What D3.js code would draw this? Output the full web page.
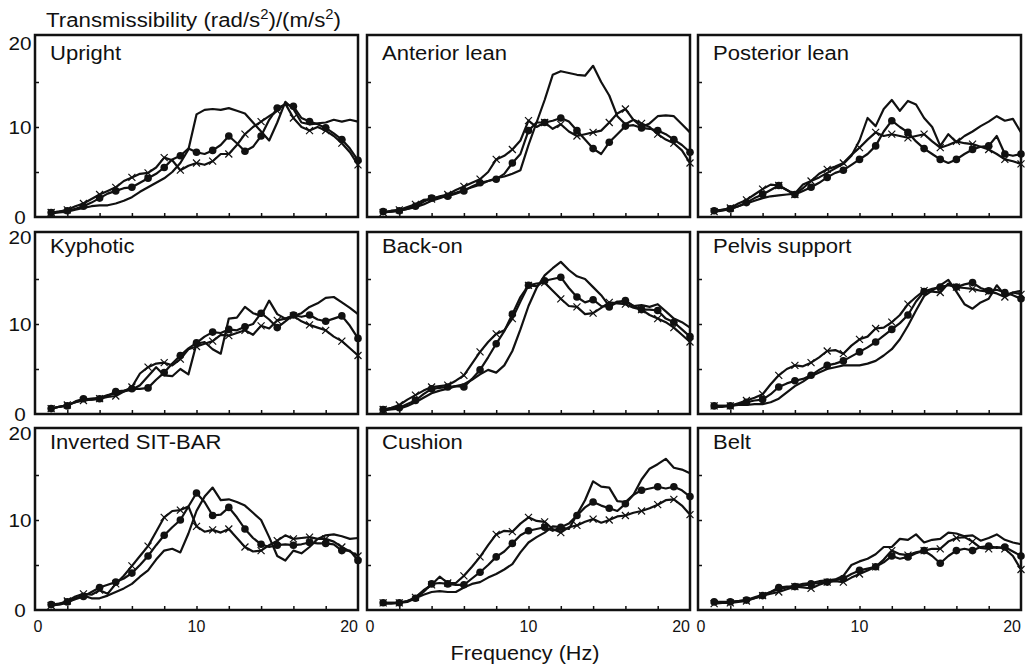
<!DOCTYPE html>
<html>
<head>
<meta charset="utf-8">
<script src="https://cdn.jsdelivr.net/npm/d3@7"></script>
<style>
body { margin: 0; background: #fff; }
text { font-family: "Liberation Sans", Arial, Helvetica, sans-serif; fill: #111; }
</style>
</head>
<body>
<svg id="chart" width="1032" height="670"></svg>
<script>
// frequency axis of every curve (Hz)
var freqs = [1,1.5,2,2.5,3,3.5,4,4.5,5,5.5,6,6.5,7,7.5,8,8.5,9,9.5,10,10.5,11,11.5,12,12.5,13,13.5,14,14.5,15,15.5,16,16.5,17,17.5,18,18.5,19,19.5,20];
// frequencies that carry a marker
var markerFreqs = [1,2,3,4,5,6,7,8,9,10,11,12,13,14,15,16,17,18,19,20];

var panelNames = ["Upright", "Anterior lean", "Posterior lean", "Kyphotic", "Back-on",
                  "Pelvis support", "Inverted SIT-BAR", "Cushion", "Belt"];

var yTickLabels = ["20", "10", "0"];
var xTickLabels = ["0", "10", "20"];

// three curves per panel: plain line, line with dots, line with crosses
var uprightPlain = [0.4,0.5,0.6,0.8,1.0,1.2,1.3,1.3,1.5,1.8,2.2,2.8,3.3,3.8,4.3,5.0,6.0,7.5,11.4,11.9,12.0,11.9,12.1,11.8,11.5,10.5,9.5,8.5,10.5,12.8,12.0,10.5,10.3,10.4,10.5,10.8,10.6,10.8,10.6];
var uprightDots  = [0.5,0.6,0.7,0.9,1.2,1.6,2.1,2.6,2.9,3.2,3.3,3.8,4.3,4.8,5.5,6.4,6.8,7.6,7.2,7.0,7.4,8.0,9.0,8.2,7.3,7.8,9.0,10.8,12.1,12.5,12.3,11.0,10.6,10.3,9.9,9.3,8.6,7.6,6.3];
var uprightCross = [0.5,0.6,0.8,1.2,1.5,2.0,2.5,2.9,3.3,4.0,4.4,4.8,4.9,5.5,6.6,6.3,5.2,5.7,6.0,5.8,6.2,7.0,7.0,8.0,9.2,10.0,10.6,11.2,11.8,12.6,11.0,10.0,9.6,10.0,9.6,9.0,8.2,7.2,5.8];

var anteriorPlain = [0.5,0.6,0.7,0.9,1.1,1.4,1.8,2.1,2.4,2.7,3.0,3.3,3.6,4.0,4.3,4.5,4.8,5.2,8.0,10.5,13.0,15.8,16.2,16.0,15.8,15.7,16.8,15.0,13.5,11.2,10.3,10.8,10.0,10.4,11.2,11.3,11.2,10.3,9.4];
var anteriorDots  = [0.6,0.6,0.7,0.9,1.2,1.7,2.1,2.2,2.3,2.6,2.9,3.4,3.8,4.0,4.2,4.8,6.0,7.0,9.6,10.5,10.5,10.7,11.0,10.6,9.6,8.6,7.6,7.0,8.3,9.2,10.1,10.2,9.9,9.8,9.6,9.2,8.6,8.0,7.2];
var anteriorCross = [0.5,0.7,0.8,1.1,1.4,1.9,2.0,2.3,2.5,3.0,3.4,3.8,4.2,5.0,6.4,6.8,7.5,8.5,10.7,10.0,10.5,9.8,10.3,9.5,9.0,9.2,9.4,9.6,10.5,11.5,12.0,10.8,10.4,10.0,9.2,8.6,8.2,7.4,6.0];

var posteriorPlain = [0.6,0.7,0.9,1.2,1.5,1.8,2.1,2.3,2.4,2.5,2.6,3.6,4.0,4.4,4.9,5.4,5.9,6.8,8.5,11.0,10.1,12.0,13.0,11.8,12.9,12.5,11.0,10.0,7.9,9.2,8.3,9.0,9.5,10.1,10.6,11.2,10.7,10.9,9.4];
var posteriorDots  = [0.7,0.8,0.9,1.2,1.6,2.1,2.5,3.0,3.5,3.0,2.5,2.9,3.3,3.8,4.4,4.9,5.2,5.8,6.4,7.0,7.9,9.5,10.7,10.0,9.4,8.4,7.6,7.0,6.4,6.0,6.4,7.0,7.5,7.8,7.9,9.0,7.0,6.8,7.0];
var posteriorCross = [0.6,0.8,1.0,1.5,1.9,2.5,3.1,3.6,3.5,3.0,2.5,3.2,4.0,4.8,5.3,5.6,6.0,6.9,7.7,8.6,9.4,9.0,9.2,9.0,8.8,9.0,9.2,8.4,7.7,8.0,8.4,8.2,8.1,7.8,7.5,7.0,6.4,6.2,5.9];

var kyphoticPlain = [0.6,0.8,1.0,1.3,1.6,1.7,1.8,2.1,2.3,2.5,2.7,3.2,4.2,5.2,4.3,4.2,5.0,4.4,7.8,8.0,7.2,6.7,10.6,10.7,11.9,11.2,10.9,12.6,11.1,10.6,10.9,11.2,11.9,12.3,12.9,13.0,12.4,11.8,11.1];
var kyphoticDots  = [0.6,0.8,0.9,1.4,1.7,1.6,1.7,2.0,2.5,2.6,2.8,2.8,2.9,3.8,4.6,5.6,6.5,7.3,7.9,8.6,9.1,9.0,9.4,9.3,9.7,10.0,11.2,10.5,9.6,10.3,11.0,10.8,11.0,10.5,10.3,10.6,10.9,9.8,8.4];
var kyphoticCross = [0.6,0.8,1.0,1.3,1.5,1.6,1.7,1.9,2.0,2.5,3.0,4.5,5.2,5.6,5.7,5.4,6.1,7.2,7.5,7.8,8.1,8.8,8.7,9.0,9.3,8.8,9.8,9.5,10.4,10.6,10.9,10.3,9.9,9.6,9.3,8.6,8.1,7.3,6.5];

var backOnPlain = [0.4,0.5,0.6,0.9,1.3,1.8,2.3,2.6,2.8,3.1,3.3,3.8,4.4,4.9,4.6,5.4,7.0,9.4,12.0,14.0,15.4,16.2,16.9,16.0,15.3,15.0,14.1,13.2,12.0,12.5,12.5,12.0,12.1,11.9,12.2,11.4,10.6,10.2,9.6];
var backOnDots  = [0.5,0.6,0.7,1.1,1.5,2.2,2.8,2.9,3.0,3.1,3.0,3.9,4.9,6.3,7.8,9.2,11.1,13.0,14.3,14.2,14.8,15.0,15.2,14.0,13.0,12.4,12.7,12.0,11.9,12.4,12.6,12.0,11.6,11.6,11.5,10.6,10.2,9.4,8.6];
var backOnCross = [0.5,0.7,1.0,1.6,2.1,2.6,3.0,3.1,3.2,3.7,4.3,5.6,6.9,8.0,8.9,9.3,10.6,12.5,14.3,14.5,14.6,13.7,12.8,12.0,11.9,11.1,11.2,11.8,12.4,12.3,12.2,11.8,11.6,11.0,10.6,10.2,9.6,8.8,8.0];

var pelvisPlain = [0.8,0.8,0.9,1.0,1.0,1.1,1.1,1.3,1.7,2.4,3.1,3.6,4.2,4.6,5.0,5.2,5.4,5.4,5.4,5.6,5.9,6.5,7.2,8.3,9.8,11.5,13.1,13.7,14.3,14.9,13.6,12.2,11.7,12.4,12.8,14.3,13.2,13.5,13.7];
var pelvisDots  = [0.9,0.9,0.9,1.1,1.3,1.5,1.6,2.2,3.0,3.4,3.7,3.9,4.3,4.9,5.4,5.6,5.9,6.4,6.9,7.4,8.0,8.7,9.4,10.1,11.0,12.5,13.6,13.9,14.1,14.3,14.1,14.4,14.6,14.0,13.7,13.8,13.5,13.2,12.8];
var pelvisCross = [0.9,0.9,0.9,1.2,1.5,1.8,2.2,3.3,4.3,5.0,5.4,5.3,5.7,6.3,7.0,7.1,6.7,7.6,8.3,8.6,9.5,9.6,10.2,11.0,12.2,13.0,13.7,13.6,13.5,14.5,14.1,14.0,13.9,13.7,13.6,13.4,13.0,13.5,13.3];

var invertedPlain = [0.5,0.6,0.8,1.3,1.6,1.3,1.3,1.6,2.0,2.4,2.9,3.7,4.4,5.6,6.6,6.8,6.4,8.5,11.0,12.6,13.6,12.2,12.3,12.0,11.6,10.8,10.0,8.1,6.0,5.5,6.6,6.3,7.0,7.9,8.3,8.4,8.2,7.9,8.0];
var invertedDots  = [0.6,0.7,0.9,1.2,1.5,2.0,2.5,2.8,3.1,3.5,4.1,5.0,6.0,7.2,8.3,9.2,10.0,11.5,13.0,12.0,10.5,10.6,11.4,10.3,9.0,8.0,7.3,7.0,7.2,7.3,7.2,7.3,7.5,7.4,7.4,7.3,6.6,6.6,5.5];
var invertedCross = [0.5,0.7,1.0,1.5,1.8,1.7,2.2,1.8,2.9,3.8,4.9,6.0,7.1,8.7,10.3,11.0,11.1,11.5,9.3,8.7,8.9,8.6,9.0,8.0,7.0,6.5,6.6,7.2,7.7,8.3,7.9,8.0,8.1,7.9,7.9,7.6,7.0,6.5,6.0];

var cushionPlain = [0.7,0.7,0.8,1.0,1.3,1.7,2.0,2.1,2.0,2.0,2.5,2.9,3.1,3.6,4.0,4.5,5.1,6.4,7.5,8.1,8.6,9.3,9.2,9.0,10.6,12.2,14.3,13.7,13.6,12.1,12.0,12.8,14.5,15.7,16.2,16.8,15.8,15.6,15.2];
var cushionDots  = [0.8,0.8,0.8,0.9,1.3,2.0,2.9,3.0,2.9,2.8,2.8,3.5,4.2,5.0,5.9,6.5,7.4,8.3,8.8,9.0,9.2,8.8,9.2,9.6,10.5,11.4,12.0,11.6,11.3,11.0,11.8,12.8,13.3,13.5,13.7,13.5,13.7,13.3,12.6];
var cushionCross = [0.8,0.8,0.8,1.0,1.4,2.2,2.8,3.7,3.0,3.0,3.8,4.8,5.9,7.2,8.4,8.8,8.7,9.6,10.3,9.9,9.8,9.0,8.6,9.2,9.4,9.8,10.1,9.7,10.0,10.4,10.5,10.8,11.0,11.3,11.7,12.2,12.3,11.6,10.6];

var beltPlain = [0.8,0.8,0.9,1.0,1.1,1.4,1.7,2.0,2.3,2.5,2.7,2.9,3.0,3.2,3.3,3.4,3.8,5.0,5.4,5.7,6.2,7.0,7.0,7.9,7.8,8.4,7.5,7.8,7.9,8.6,8.5,8.2,8.3,7.7,8.0,8.4,7.8,7.5,7.3];
var beltDots  = [0.9,0.9,0.9,1.0,1.1,1.3,1.6,2.0,2.5,2.6,2.6,2.7,2.9,3.0,3.1,3.3,3.5,4.0,4.4,4.6,4.8,5.3,6.0,5.7,5.9,6.3,6.6,6.0,5.2,6.0,6.6,6.8,6.6,7.0,7.1,6.9,7.0,6.5,6.0];
var beltCross = [0.7,0.8,0.8,0.9,1.0,1.3,1.6,1.8,2.0,2.3,2.6,2.5,2.4,2.8,3.1,3.2,3.1,3.6,4.0,4.4,4.8,5.6,6.6,6.2,6.1,6.4,6.6,6.8,6.8,7.6,8.0,8.1,7.6,6.9,6.8,7.0,6.8,6.0,4.5];

var panels = [
    { name: panelNames[0], plain: uprightPlain,   dots: uprightDots,   cross: uprightCross },
    { name: panelNames[1], plain: anteriorPlain,  dots: anteriorDots,  cross: anteriorCross },
    { name: panelNames[2], plain: posteriorPlain, dots: posteriorDots, cross: posteriorCross },
    { name: panelNames[3], plain: kyphoticPlain,  dots: kyphoticDots,  cross: kyphoticCross },
    { name: panelNames[4], plain: backOnPlain,    dots: backOnDots,    cross: backOnCross },
    { name: panelNames[5], plain: pelvisPlain,    dots: pelvisDots,    cross: pelvisCross },
    { name: panelNames[6], plain: invertedPlain,  dots: invertedDots,  cross: invertedCross },
    { name: panelNames[7], plain: cushionPlain,   dots: cushionDots,   cross: cushionCross },
    { name: panelNames[8], plain: beltPlain,      dots: beltDots,      cross: beltCross }
];

// layout
var colLeft = [35, 367, 698];
var rowTop = [35, 232, 428];
var panelW = 323, panelH = 182;
var titleDy = [25, 21, 21];
var top20Dy = [8, 5, 5];

var svg = d3.select("#chart");
svg.append("rect").attr("width", 1032).attr("height", 670).attr("fill", "#fff");

var x = d3.scaleLinear().domain([0, 20]).range([0, panelW]);
var y = d3.scaleLinear().domain([0, 20]).range([panelH, 2]);

var line = d3.line()
    .x(function(d, i) { return x(freqs[i]); })
    .y(function(d) { return y(d); });

// text drawn a little wider, the scan of the figure is stretched
function wideText(sel, str, px, py, size, sx, anchor) {
    return sel.append("text")
        .attr("transform", "translate(" + px + "," + py + ") scale(" + sx + ",1)")
        .attr("font-size", size)
        .attr("text-anchor", anchor || "start")
        .text(str);
}

function markerPoints(series) {
    return markerFreqs.map(function(f) { return { f: f, v: series[freqs.indexOf(f)] }; });
}

panels.forEach(function(p, k) {
    var col = k % 3, row = Math.floor(k / 3);
    var g = svg.append("g").attr("transform", "translate(" + colLeft[col] + "," + rowTop[row] + ")");

    // inward ticks
    var xAxis = g.append("g").attr("transform", "translate(0," + panelH + ")")
        .call(d3.axisBottom(x).tickValues([2, 4, 6, 8, 10, 12, 14, 16, 18]).tickSize(-4).tickFormat(""));
    var yAxis = g.append("g")
        .call(d3.axisLeft(y).tickValues([5, 10, 15]).tickSize(-4).tickFormat(""));
    xAxis.select(".domain").remove();
    yAxis.select(".domain").remove();
    g.selectAll(".tick line").attr("stroke", "#111").attr("stroke-width", 1.5);

    [p.plain, p.dots, p.cross].forEach(function(s) {
        g.append("path").datum(s)
            .attr("d", line)
            .attr("fill", "none")
            .attr("stroke", "#111")
            .attr("stroke-width", 2.2)
            .attr("stroke-linejoin", "round");
    });

    g.selectAll("circle.dot").data(markerPoints(p.dots)).enter()
        .append("circle").attr("class", "dot")
        .attr("cx", function(d) { return x(d.f); })
        .attr("cy", function(d) { return y(d.v); })
        .attr("r", 3.8)
        .attr("fill", "#111");

    g.selectAll("path.cross").data(markerPoints(p.cross)).enter()
        .append("path").attr("class", "cross")
        .attr("transform", function(d) { return "translate(" + x(d.f) + "," + y(d.v) + ")"; })
        .attr("d", "M-3.5,-3.5L3.5,3.5M-3.5,3.5L3.5,-3.5")
        .attr("stroke", "#111")
        .attr("stroke-width", 1.2);

    g.append("rect")
        .attr("width", panelW).attr("height", panelH)
        .attr("fill", "none").attr("stroke", "#111").attr("stroke-width", 2.5);

    wideText(g, p.name, 15, titleDy[row], 19.5, 1.13);

    if (col === 0) {
        wideText(g, yTickLabels[0], -15, top20Dy[row] + 6.5, 18, 1.15, "middle");
        wideText(g, yTickLabels[1], -15, y(10) + 6.5, 18, 1.15, "middle");
        wideText(g, yTickLabels[2], -15, panelH + 6.5, 18, 1.15, "middle");
    }
    if (row === 2) {
        g.append("text").attr("x", 3).attr("y", panelH + 22).attr("font-size", 16)
            .attr("text-anchor", "middle").text(xTickLabels[0]);
        g.append("text").attr("x", x(10)).attr("y", panelH + 22).attr("font-size", 16)
            .attr("text-anchor", "middle").text(xTickLabels[1]);
        g.append("text").attr("x", panelW).attr("y", panelH + 22).attr("font-size", 16)
            .attr("text-anchor", "end").text(xTickLabels[2]);
    }
});

// overall titles
var title = svg.append("text")
    .attr("transform", "translate(46,27) scale(1.06,1)")
    .attr("font-size", 21);
title.append("tspan").text("Transmissibility (rad/s");
title.append("tspan").attr("font-size", 14).attr("dy", -8).text("2");
title.append("tspan").attr("dy", 8).text(")/(m/s");
title.append("tspan").attr("font-size", 14).attr("dy", -8).text("2");
title.append("tspan").attr("dy", 8).text(")");

svg.append("text")
    .attr("transform", "translate(525,660) scale(1.03,1)")
    .attr("font-size", 21)
    .attr("text-anchor", "middle")
    .text("Frequency (Hz)");
</script>
</body>
</html>
